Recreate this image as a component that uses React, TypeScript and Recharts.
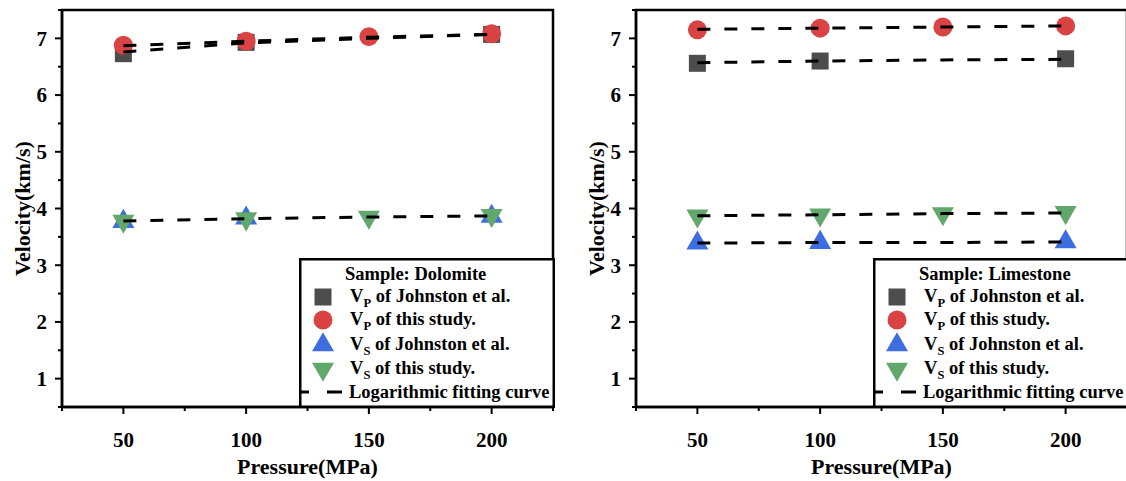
import React from 'react';
import { ScatterChart, Scatter, XAxis, YAxis, ReferenceArea, Legend } from 'recharts';

const FONT = '"Liberation Serif", "Times New Roman", serif';

// pressures (MPa)
const pressures = [50, 100, 150, 200];
const johnstonPressures = [50, 100, 200];

// Dolomite, velocities in km/s
const dolVpJohnston = [6.73, 6.93, 7.07];
const dolVpThis = [6.88, 6.95, 7.03, 7.08];
const dolVsJohnston = [3.77, 3.83, 3.86];
const dolVsThis = [3.78, 3.82, 3.85, 3.88];
const dolFitVpThis = [6.87, 6.95, 7.02, 7.07];
const dolFitVpJohnston = [6.76, 6.92, 7.0, 7.07];
const dolFitVs = [3.78, 3.82, 3.85, 3.87];

// Limestone, velocities in km/s
const limVpJohnston = [6.56, 6.6, 6.64];
const limVpThis = [7.15, 7.18, 7.2, 7.22];
const limVsJohnston = [3.39, 3.4, 3.41];
const limVsThis = [3.87, 3.89, 3.91, 3.93];
const limFitVpThis = [7.16, 7.18, 7.2, 7.22];
const limFitVpJohnston = [6.57, 6.6, 6.62, 6.63];
const limFitVsThis = [3.87, 3.89, 3.91, 3.92];
const limFitVsJohnston = [3.39, 3.4, 3.4, 3.41];

const xTicks = [25, 50, 75, 100, 125, 150, 175, 200, 225];
const yTicks = [0.5, 1, 1.5, 2, 2.5, 3, 3.5, 4, 4.5, 5, 5.5, 6, 6.5, 7, 7.5];

const legendSubs = ['P', 'P', 'S', 'S'];
const legendTexts = [' of Johnston et al.', ' of this study.', ' of Johnston et al.', ' of this study.'];
const fitLabel = 'Logarithmic fitting curve';

const COLORS = ['#4d4d4d', '#d94343', '#3e6de0', '#62a86c'];
const KINDS = ['square', 'circle', 'up', 'down'];

const toPoints = (xs: number[], ys: number[]) => xs.map((x, i) => ({ x, y: ys[i] }));

const marker = (kind: string, fill: string, cx: number, cy: number) => {
  if (kind === 'square') return <rect x={cx - 8.5} y={cy - 8.5} width={17} height={17} fill={fill} />;
  if (kind === 'circle') return <circle cx={cx} cy={cy} r={9.5} fill={fill} />;
  const s = 22;
  const h = (s * Math.sqrt(3)) / 2;
  if (kind === 'up') {
    return <polygon points={`${cx},${cy - (2 * h) / 3} ${cx - s / 2},${cy + h / 3} ${cx + s / 2},${cy + h / 3}`} fill={fill} />;
  }
  return <polygon points={`${cx},${cy + (2 * h) / 3} ${cx - s / 2},${cy - h / 3} ${cx + s / 2},${cy - h / 3}`} fill={fill} />;
};

const shapeFor = (i: number) => (p: any) => marker(KINDS[i], COLORS[i], p.cx, p.cy);
const noShape = () => <g />;

const XTick = (p: any) => {
  const major = p.payload.value % 50 === 0;
  return (
    <g>
      <line x1={p.x} x2={p.x} y1={p.y} y2={p.y + (major ? 7 : 4)} stroke="#000" strokeWidth={2} />
      {major && (
        <text x={p.x} y={p.y + 40} textAnchor="middle" fontFamily={FONT} fontWeight="bold" fontSize={21} fill="#000">
          {p.payload.value}
        </text>
      )}
    </g>
  );
};

const YTick = (p: any) => {
  const major = p.payload.value % 1 === 0;
  return (
    <g>
      <line x1={p.x} x2={p.x - (major ? 7 : 4)} y1={p.y} y2={p.y} stroke="#000" strokeWidth={2} />
      {major && (
        <text x={p.x - 15} y={p.y} dy="0.35em" textAnchor="end" fontFamily={FONT} fontWeight="bold" fontSize={21} fill="#000">
          {p.payload.value}
        </text>
      )}
    </g>
  );
};

const LegendBox = ({ sample }: { sample: string }) => (
  <svg width={256} height={150} style={{ display: 'block' }}>
    <rect x={1.25} y={1.25} width={253.5} height={147.5} fill="#fff" stroke="#000" strokeWidth={2.5} />
    <text x={46} y={22} fontFamily={FONT} fontWeight="bold" fontSize={18.5} fill="#000">
      Sample: {sample}
    </text>
    {legendTexts.map((t, i) => {
      const cy = [39, 62, 87, 111][i];
      return (
        <g key={i}>
          {marker(KINDS[i], COLORS[i], 24, cy)}
          <text x={51} y={cy + 5} fontFamily={FONT} fontWeight="bold" fontSize={18.5} fill="#000">
            V
            <tspan fontSize={12.5} dy={5}>{legendSubs[i]}</tspan>
            <tspan dy={-5}>{t}</tspan>
          </text>
        </g>
      );
    })}
    <line x1={-5} x2={43} y1={134} y2={134} stroke="#000" strokeWidth={3} strokeDasharray="15 18" />
    <text x={50} y={140} fontFamily={FONT} fontWeight="bold" fontSize={18.5} fill="#000">
      {fitLabel}
    </text>
  </svg>
);

interface PanelProps {
  sample: string;
  vpJohnston: number[];
  vpThis: number[];
  vsJohnston: number[];
  vsThis: number[];
  fits: number[][];
}

const Panel: React.FC<PanelProps> = ({ sample, vpJohnston, vpThis, vsJohnston, vsThis, fits }) => (
  <ScatterChart width={563} height={481} margin={{ top: 10, right: 10, bottom: 0, left: 0 }}>
    <XAxis
      type="number"
      dataKey="x"
      domain={[25, 225]}
      ticks={xTicks}
      interval={0}
      allowDataOverflow
      height={74}
      tickSize={0}
      tickMargin={0}
      tickLine={false}
      tick={(p: any) => <XTick {...p} />}
      axisLine={{ stroke: '#000', strokeWidth: 2.5 }}
      label={{
        content: (lp: any) => (
          <text
            x={lp.viewBox.x + lp.viewBox.width / 2}
            y={lp.viewBox.y + 67}
            textAnchor="middle"
            fontFamily={FONT}
            fontWeight="bold"
            fontSize={22}
            fill="#000"
          >
            Pressure(MPa)
          </text>
        ),
      }}
    />
    <YAxis
      type="number"
      dataKey="y"
      domain={[0.5, 7.5]}
      ticks={yTicks}
      interval={0}
      allowDataOverflow
      width={62}
      tickSize={0}
      tickMargin={0}
      tickLine={false}
      tick={(p: any) => <YTick {...p} />}
      axisLine={{ stroke: '#000', strokeWidth: 2.5 }}
      label={{
        content: (lp: any) => {
          const cy = lp.viewBox.y + lp.viewBox.height / 2;
          return (
            <text
              x={22}
              y={cy}
              transform={`rotate(-90 22 ${cy})`}
              textAnchor="middle"
              dominantBaseline="central"
              fontFamily={FONT}
              fontWeight="bold"
              fontSize={22}
              fill="#000"
            >
              Velocity(km/s)
            </text>
          );
        },
      }}
    />
    <ReferenceArea x1={25} x2={225} y1={0.5} y2={7.5} fill="none" stroke="#000" strokeWidth={2.5} />
    <Scatter data={toPoints(johnstonPressures, vpJohnston)} shape={shapeFor(0)} isAnimationActive={false} />
    <Scatter data={toPoints(pressures, vpThis)} shape={shapeFor(1)} isAnimationActive={false} />
    <Scatter data={toPoints(johnstonPressures, vsJohnston)} shape={shapeFor(2)} isAnimationActive={false} />
    <Scatter data={toPoints(pressures, vsThis)} shape={shapeFor(3)} isAnimationActive={false} />
    {fits.map((f, i) => (
      <Scatter
        key={i}
        data={toPoints(pressures, f)}
        shape={noShape}
        line={{ stroke: '#000', strokeWidth: 3, strokeDasharray: '13 14', fill: 'none' }}
        lineType="joint"
        isAnimationActive={false}
      />
    ))}
    <Legend
      layout="horizontal"
      verticalAlign="middle"
      align="center"
      content={() => <LegendBox sample={sample} />}
      wrapperStyle={{ left: 299, top: 258, width: 256, height: 150 }}
    />
  </ScatterChart>
);

export default function App() {
  return (
    <div style={{ position: 'absolute', left: 0, top: 0, width: 1126, height: 481, overflow: 'hidden', background: '#fff' }}>
      <div style={{ position: 'absolute', left: 0, top: 0 }}>
        <Panel
          sample="Dolomite"
          vpJohnston={dolVpJohnston}
          vpThis={dolVpThis}
          vsJohnston={dolVsJohnston}
          vsThis={dolVsThis}
          fits={[dolFitVpJohnston, dolFitVpThis, dolFitVs]}
        />
      </div>
      <div style={{ position: 'absolute', left: 574, top: 0 }}>
        <Panel
          sample="Limestone"
          vpJohnston={limVpJohnston}
          vpThis={limVpThis}
          vsJohnston={limVsJohnston}
          vsThis={limVsThis}
          fits={[limFitVpJohnston, limFitVpThis, limFitVsJohnston, limFitVsThis]}
        />
      </div>
    </div>
  );
}
